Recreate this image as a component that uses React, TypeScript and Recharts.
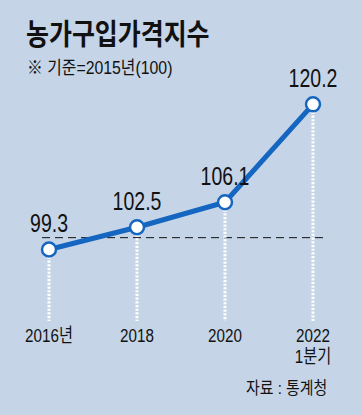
import { LineChart, Line, XAxis, YAxis, ReferenceLine } from "recharts";

const years = ["2016년", "2018", "2020", "2022"];
const subLabels = ["", "", "", "1분기"];
const priceIndex = [99.3, 102.5, 106.1, 120.2];
const guideValue = 101;
const yDomain = [89, 125];

const BLUE = "#1466c0";
const BG = "#c5d5e7";
const SANS = "'Liberation Sans', 'Noto Sans CJK KR', sans-serif";
const KR = "'Noto Sans CJK KR', sans-serif";

const data = years.map((year, i) => ({
  year,
  sub: subLabels[i],
  value: priceIndex[i],
}));

// condensed look: squeeze text horizontally
const YearTick = ({ x, y, payload, index }: any) => {
  const sub = subLabels[index];
  return (
    <g transform={`translate(${x},${y})`}>
      <g transform="scale(0.8,1)">
        <text x={0} y={21} textAnchor="middle" fontSize={19} fill="#111" fontFamily={SANS}>
          {payload.value}
        </text>
        {sub ? (
          <text x={0} y={42} textAnchor="middle" fontSize={19} fill="#111" fontFamily={SANS}>
            {sub}
          </text>
        ) : null}
      </g>
    </g>
  );
};

const ValueLabel = ({ x, y, value }: any) => (
  <g transform={`translate(${x},${y - 17})`}>
    <text
      transform="scale(0.78,1)"
      x={0}
      y={0}
      textAnchor="middle"
      fontSize={25}
      fill="#111"
      fontFamily={SANS}
    >
      {value}
    </text>
  </g>
);

export default function App() {
  return (
    <div
      style={{
        position: "absolute",
        left: 0,
        top: 0,
        width: 362,
        height: 415,
        background: BG,
        overflow: "hidden",
      }}
    >
      <div
        style={{
          position: "absolute",
          left: 26,
          top: 14,
          fontFamily: KR,
          fontWeight: 700,
          fontSize: 29,
          color: "#111",
          lineHeight: "36px",
          transform: "scaleX(0.86)",
          transformOrigin: "left top",
          whiteSpace: "nowrap",
        }}
      >
        농가구입가격지수
      </div>
      <div
        style={{
          position: "absolute",
          left: 27,
          top: 58,
          fontFamily: SANS,
          fontSize: 18,
          color: "#111",
          lineHeight: "20px",
          transform: "scaleX(0.88)",
          transformOrigin: "left top",
          whiteSpace: "nowrap",
        }}
      >
        ※ 기준=2015년(100)
      </div>
      <div
        style={{
          position: "absolute",
          right: 35,
          top: 379,
          fontFamily: SANS,
          fontSize: 17,
          color: "#111",
          lineHeight: "20px",
          transform: "scaleX(0.88)",
          transformOrigin: "right top",
          whiteSpace: "nowrap",
        }}
      >
        자료 : 통계청
      </div>
      <LineChart
        width={362}
        height={415}
        data={data}
        margin={{ top: 71, right: 37, bottom: 64, left: 42 }}
        style={{ position: "absolute", left: 0, top: 0 }}
      >
        <XAxis
          dataKey="year"
          height={30}
          padding={{ left: 7, right: 12 }}
          axisLine={false}
          tickLine={false}
          tickSize={0}
          tickMargin={0}
          interval={0}
          tick={<YearTick />}
        />
        <YAxis hide domain={yDomain} type="number" allowDataOverflow />
        <ReferenceLine y={guideValue} stroke="#111" strokeWidth={1} strokeDasharray="8 5" />
        {data.map((d) => (
          <ReferenceLine
            key={d.year}
            segment={[
              { x: d.year, y: d.value },
              { x: d.year, y: yDomain[0] },
            ]}
            stroke="#fff"
            strokeWidth={3}
            strokeDasharray="2.2 1.5"
          />
        ))}
        <Line
          dataKey="value"
          stroke={BLUE}
          strokeWidth={5}
          dot={{ r: 7, fill: "#fff", stroke: BLUE, strokeWidth: 2.5 }}
          activeDot={false}
          label={<ValueLabel />}
          isAnimationActive={false}
        />
      </LineChart>
    </div>
  );
}
